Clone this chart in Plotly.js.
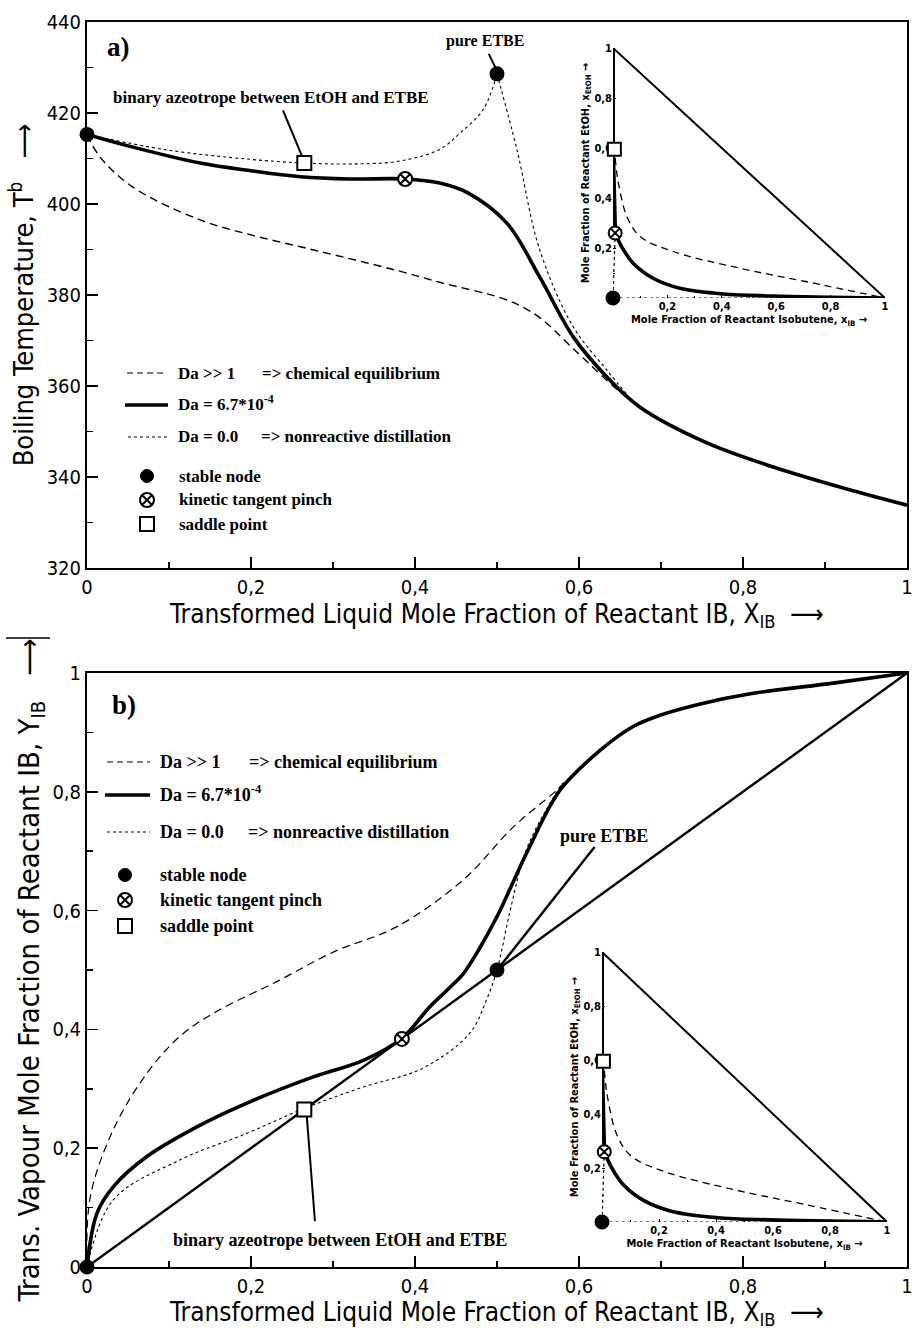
<!DOCTYPE html>
<html><head><meta charset="utf-8">
<script src="https://cdn.plot.ly/plotly-3.0.1.min.js"></script>
<style>html,body{margin:0;padding:0;background:#fff}</style>
</head><body><div id="chart" style="width:912px;height:1330px"></div>
<script>
// ---------------- tick labels ----------------
const ticksX = [0, 0.2, 0.4, 0.6, 0.8, 1];
const ticksXText = ['0', '0,2', '0,4', '0,6', '0,8', '1'];
const minorX = [0.1, 0.3, 0.5, 0.7, 0.9];
const ticksTA = [320, 340, 360, 380, 400, 420, 440];
const minorTA = [330, 350, 370, 390, 410, 430];
const ticksYB = [0, 0.2, 0.4, 0.6, 0.8, 1];
const ticksYBText = ['0', '0,2', '0,4', '0,6', '0,8', '1'];
const minorYB = [0.1, 0.3, 0.5, 0.7, 0.9];
const insetTicks = [0.2, 0.4, 0.6, 0.8, 1];
const insetTickText = ['0,2', '0,4', '0,6', '0,8', '1'];
const insetMinor = [0.1, 0.3, 0.5, 0.7, 0.9];

// ---------------- panel a: boiling temperature ----------------
const xEqA = [0, 0.016, 0.056, 0.138, 0.2, 0.26, 0.32, 0.38, 0.43, 0.512, 0.55, 0.593, 0.646, 0.674];
const tEqA = [415.3, 410.3, 403.7, 396.5, 393.2, 390.6, 388.0, 385.3, 382.8, 378.9, 375.3, 368.2, 359.3, 355.4];
const xKinA = [0, 0.056, 0.138, 0.2, 0.26, 0.32, 0.388, 0.43, 0.465, 0.512, 0.552, 0.593, 0.634, 0.674, 0.756, 0.837, 0.918, 1.0];
const tKinA = [415.3, 412.5, 409.0, 407.3, 406.0, 405.5, 405.5, 404.6, 402.4, 395.8, 384.0, 370.8, 362.0, 355.4, 347.5, 342.2, 337.8, 333.8];
const xNrLeftA = [0, 0.097, 0.2, 0.265, 0.32, 0.38, 0.43, 0.455, 0.483, 0.5];
const tNrLeftA = [415.3, 411.9, 409.8, 409.0, 408.8, 409.4, 412.0, 415.6, 420.7, 428.6];
const xNrRightA = [0.5, 0.524, 0.552, 0.593, 0.634, 0.66];
const tNrRightA = [428.6, 412.2, 390.0, 373.0, 363.5, 357.8];
// singular points panel a
const xNodeA = [0, 0.5];
const tNodeA = [415.3, 428.6];
const xPinchA = [0.388];
const tPinchA = [405.5];
const xSaddleA = [0.265];
const tSaddleA = [409.0];

// ---------------- panel b: vapour vs liquid ----------------
const xDiagB = [0, 1];
const yDiagB = [0, 1];
const xEqB = [0, 0.004, 0.032, 0.073, 0.113, 0.154, 0.235, 0.30, 0.378, 0.459, 0.520, 0.573, 0.585];
const yEqB = [0, 0.118, 0.231, 0.326, 0.388, 0.427, 0.483, 0.53, 0.573, 0.652, 0.741, 0.803, 0.82];
const xKinB = [0, 0.012, 0.032, 0.073, 0.134, 0.195, 0.276, 0.337, 0.384, 0.418, 0.439, 0.459, 0.479, 0.50, 0.520, 0.540, 0.577, 0.626, 0.666, 0.699, 0.748, 0.809, 0.910, 1.0];
const yKinB = [0, 0.09, 0.135, 0.186, 0.236, 0.276, 0.320, 0.348, 0.385, 0.438, 0.466, 0.494, 0.537, 0.590, 0.649, 0.708, 0.803, 0.870, 0.910, 0.929, 0.948, 0.965, 0.983, 1.0];
const xNrB = [0, 0.032, 0.113, 0.195, 0.265, 0.337, 0.41, 0.467, 0.487, 0.5, 0.516, 0.535, 0.56, 0.58];
const yNrB = [0, 0.113, 0.18, 0.225, 0.267, 0.303, 0.335, 0.394, 0.449, 0.5, 0.60, 0.70, 0.77, 0.815];
const xNodeB = [0, 0.5];
const yNodeB = [0, 0.5];
const xPinchB = [0.384];
const yPinchB = [0.384];
const xSaddleB = [0.265];
const ySaddleB = [0.265];

// ---------------- insets: composition triangle ----------------
const xInEdge = [0, 1];
const yInEdge = [1, 0];
const xInKin = [0, 0, 0.008, 0.032, 0.075, 0.149, 0.246, 0.405, 0.588, 1];
const yInKin = [1, 0.6, 0.26, 0.205, 0.138, 0.078, 0.039, 0.016, 0.008, 0];
const xInEq = [0.008, 0.014, 0.02, 0.051, 0.1, 0.221, 0.467, 0.712, 1];
const yInEq = [0.56, 0.5, 0.459, 0.326, 0.246, 0.186, 0.119, 0.065, 0];
const xInNr = [0.008, 0, 1];
const yInNr = [0.26, 0, 0];
const xInNode = [0];
const yInNode = [0];
const xInPinch = [0.008];
const yInPinch = [0.26];
const xInSaddle = [0.005];
const yInSaddle = [0.595];

// ---------------- geometry helpers ----------------
const W = 912, H = 1330, ML = 87, MR = 5, MT = 22, MB = 63;
const PW = W - ML - MR, PH = H - MT - MB;
const px = x => (x - ML) / PW;
const py = y => 1 - (y - MT) / PH;

const SANS = 'DejaVu Sans Condensed, Liberation Sans Narrow, DejaVu Sans, sans-serif';
const SERIF = 'Liberation Serif, DejaVu Serif, serif';
const BLACK = '#000';
const NB = '\u00A0';

function lineTrace(x, y, xa, ya, width, dash, shape) {
  return {
    type: 'scatter', mode: 'lines', x: x, y: y, xaxis: xa, yaxis: ya,
    line: {color: BLACK, width: width, dash: dash, shape: shape || 'spline', smoothing: 1},
    cliponaxis: false, hoverinfo: 'skip', showlegend: false
  };
}
function markTrace(x, y, xa, ya, symbol, size, fill) {
  return {
    type: 'scatter', mode: 'markers', x: x, y: y, xaxis: xa, yaxis: ya,
    marker: {symbol: symbol, size: size, color: fill, line: {color: BLACK, width: 2}},
    cliponaxis: false, hoverinfo: 'skip', showlegend: false
  };
}

const traces = [];
// panel a
traces.push(lineTrace(xEqA, tEqA, 'x', 'y', 1.4, '8px,5px'));
traces.push(lineTrace(xNrLeftA, tNrLeftA, 'x', 'y', 1.1, 'dot'));
traces.push(lineTrace(xNrRightA, tNrRightA, 'x', 'y', 1.1, 'dot'));
traces.push(lineTrace(xKinA, tKinA, 'x', 'y', 3.6, 'solid'));
traces.push(markTrace(xSaddleA, tSaddleA, 'x', 'y', 'square', 14, '#fff'));
traces.push(markTrace(xPinchA, tPinchA, 'x', 'y', 'circle-x', 14, '#fff'));
traces.push(markTrace(xNodeA, tNodeA, 'x', 'y', 'circle', 13, BLACK));
// panel b
traces.push(lineTrace(xDiagB, yDiagB, 'x2', 'y2', 2.4, 'solid', 'linear'));
traces.push(lineTrace(xEqB, yEqB, 'x2', 'y2', 1.2, '8px,5px'));
traces.push(lineTrace(xNrB, yNrB, 'x2', 'y2', 1.1, 'dot'));
traces.push(lineTrace(xKinB, yKinB, 'x2', 'y2', 3.6, 'solid'));
traces.push(markTrace(xSaddleB, ySaddleB, 'x2', 'y2', 'square', 14, '#fff'));
traces.push(markTrace(xPinchB, yPinchB, 'x2', 'y2', 'circle-x', 14, '#fff'));
traces.push(markTrace(xNodeB, yNodeB, 'x2', 'y2', 'circle', 13, BLACK));
// insets
[['x3', 'y3'], ['x4', 'y4']].forEach(([xa, ya]) => {
  traces.push(lineTrace(xInEdge, yInEdge, xa, ya, 2, 'solid', 'linear'));
  traces.push(lineTrace(xInNr, yInNr, xa, ya, 1.2, 'dot', 'linear'));
  traces.push(lineTrace(xInEq, yInEq, xa, ya, 1.3, '7px,5px'));
  traces.push(lineTrace(xInKin.slice(0, 3), yInKin.slice(0, 3), xa, ya, 4, 'solid', 'linear'));
  traces.push(lineTrace(xInKin.slice(2), yInKin.slice(2), xa, ya, 3.6, 'solid'));
  traces.push(markTrace(xInSaddle, yInSaddle, xa, ya, 'square', 13, '#fff'));
  traces.push(markTrace(xInPinch, yInPinch, xa, ya, 'circle-x', 13, '#fff'));
  traces.push(markTrace(xInNode, yInNode, xa, ya, 'circle', 13, BLACK));
});

// ---------------- axes ----------------
const tickFont = {family: SANS, size: 20, color: BLACK};
const xTitleFont = {family: SANS, size: 26, color: BLACK};
const insetFont = {family: SANS, size: 11, weight: 'bold', color: BLACK};
function mainAxis(o) {
  return Object.assign({
    showline: true, linewidth: 2, linecolor: BLACK, mirror: true,
    ticks: 'inside', ticklen: 11, tickwidth: 1.5, tickcolor: BLACK,
    tickfont: tickFont, showgrid: false, zeroline: false, layer: 'below traces',
    ticklabeloverflow: 'allow', fixedrange: true, automargin: false
  }, o);
}
function insetAxis(o) {
  return Object.assign({
    showline: false, showgrid: false, zeroline: false, range: [0, 1],
    ticks: 'inside', ticklen: 3, tickwidth: 1, tickcolor: BLACK,
    tickmode: 'array', tickvals: insetTicks, ticktext: insetTickText,
    minor: {tickvals: insetMinor, ticks: 'inside', ticklen: 2, tickwidth: 1, tickcolor: BLACK},
    tickfont: {family: SANS, size: 11, weight: 'bold', color: BLACK},
    ticklabeloverflow: 'allow',
    layer: 'below traces', fixedrange: true, automargin: false
  }, o);
}
const xTitle = 'Transformed Liquid Mole Fraction of Reactant IB, X<sub>IB</sub>  \u27F6';
const insetXTitle = 'Mole Fraction of Reactant Isobutene, x<sub>IB</sub> \u2192';
const insetYTitle = 'Mole Fraction of Reactant EtOH, x<sub>EtOH</sub> \u2192';

const layout = {
  width: W, height: H,
  margin: {l: ML, r: MR, t: MT, b: MB},
  paper_bgcolor: '#fff', plot_bgcolor: 'rgba(0,0,0,0)',
  showlegend: false,
  xaxis: mainAxis({domain: [0, 1], anchor: 'y', range: [0, 1],
    tickmode: 'array', tickvals: ticksX, ticktext: ticksXText,
    minor: {tickvals: minorX, ticks: 'inside', ticklen: 6, tickwidth: 1.5, tickcolor: BLACK},
    title: {text: xTitle, font: xTitleFont, standoff: 2}}),
  yaxis: mainAxis({domain: [py(568), 1], anchor: 'x', range: [320, 440],
    tickmode: 'array', tickvals: ticksTA, ticktext: ticksTA.map(String),
    minor: {tickvals: minorTA, ticks: 'inside', ticklen: 6, tickwidth: 1.5, tickcolor: BLACK},
    title: {text: 'Boiling Temperature, T<sup>b</sup>' + NB + NB + NB + '\u27F6' + NB + NB + NB,
      font: {family: SANS, size: 27, color: BLACK}, standoff: 5}}),
  xaxis2: mainAxis({domain: [0, 1], anchor: 'y2', range: [0, 1],
    tickmode: 'array', tickvals: ticksX, ticktext: ticksXText,
    minor: {tickvals: minorX, ticks: 'inside', ticklen: 6, tickwidth: 1.5, tickcolor: BLACK},
    title: {text: xTitle, font: xTitleFont, standoff: 1}}),
  yaxis2: mainAxis({domain: [0, py(673)], anchor: 'x2', range: [0, 1],
    tickmode: 'array', tickvals: ticksYB, ticktext: ticksYBText,
    minor: {tickvals: minorYB, ticks: 'inside', ticklen: 6, tickwidth: 1.5, tickcolor: BLACK},
    title: {text: 'Trans. Vapour Mole Fraction of Reactant IB, Y<sub>IB</sub>' + NB + NB + NB + '\u27F6' + NB + NB,
      font: {family: SANS, size: 29, color: BLACK}, standoff: 4}}),
  xaxis3: insetAxis({domain: [px(613), px(885)], anchor: 'y3',
    title: {text: insetXTitle, font: insetFont, standoff: 3}}),
  yaxis3: insetAxis({domain: [py(298), py(48)], anchor: 'x3',
    title: {text: insetYTitle, font: insetFont, standoff: 2}}),
  xaxis4: insetAxis({domain: [px(602), px(887)], anchor: 'y4',
    title: {text: insetXTitle, font: insetFont, standoff: 3}}),
  yaxis4: insetAxis({domain: [py(1222), py(952)], anchor: 'x4',
    title: {text: insetYTitle, font: insetFont, standoff: 2}}),
  shapes: [],
  annotations: []
};

const TXT = {family: SERIF, size: 17, color: BLACK, weight: 'bold'};
function note(text, xref, yref, x, y, size, anchor) {
  layout.annotations.push({text: text, xref: xref, yref: yref, x: x, y: y,
    xanchor: anchor || 'center', yanchor: 'middle', showarrow: false,
    font: Object.assign({}, TXT, {size: size || 17})});
}
function seg(xref, yref, x0, y0, x1, y1, w, dash) {
  layout.shapes.push({type: 'line', xref: xref, yref: yref, x0: x0, y0: y0, x1: x1, y1: y1,
    line: {color: BLACK, width: w, dash: dash || 'solid'}});
}
// glyphs for the hand-made key (pixel positions on the page)
function keyLine(x0, x1, y, w, dash) { seg('paper', 'paper', px(x0), py(y), px(x1), py(y), w, dash); }
function keyGlyph(kind, cx, cy) {
  const base = {xref: 'paper', yref: 'paper', xsizemode: 'pixel', ysizemode: 'pixel',
    xanchor: px(cx), yanchor: py(cy)};
  if (kind === 'node') {
    layout.shapes.push(Object.assign({type: 'circle', x0: -6.5, x1: 6.5, y0: -6.5, y1: 6.5,
      fillcolor: BLACK, line: {color: BLACK, width: 1}}, base));
  } else if (kind === 'pinch') {
    layout.shapes.push(Object.assign({type: 'circle', x0: -7, x1: 7, y0: -7, y1: 7,
      fillcolor: '#fff', line: {color: BLACK, width: 2}}, base));
    layout.shapes.push(Object.assign({type: 'line', x0: -4.8, x1: 4.8, y0: -4.8, y1: 4.8, line: {color: BLACK, width: 2}}, base));
    layout.shapes.push(Object.assign({type: 'line', x0: -4.8, x1: 4.8, y0: 4.8, y1: -4.8, line: {color: BLACK, width: 2}}, base));
  } else {
    layout.shapes.push(Object.assign({type: 'rect', x0: -7, x1: 7, y0: -7, y1: 7,
      fillcolor: '#fff', line: {color: BLACK, width: 2}}, base));
  }
}
function keyText(text, x, y, size) {
  note(text, 'paper', 'paper', px(x), py(y), size, 'left');
}

// ----- panel a texts -----
note('a)', 'x', 'y', 0.038, 434.5, 27);
note('binary azeotrope between EtOH and ETBE', 'x', 'y', 0.224, 423.3, 17);
seg('x', 'y', 0.239, 420.6, 0.262, 410.6, 2);
note('pure ETBE', 'x', 'y', 0.485, 435.8, 16);
seg('x', 'y', 0.490, 433.0, 0.498, 430.0, 2);
keyLine(127, 167, 373, 1.2, '6px,4px');
keyText('Da >> 1', 176, 373);
keyText('=> chemical equilibrium', 260, 373);
keyLine(125, 168, 405, 3.4);
keyText('Da = 6.7*10<sup>-4</sup>', 176, 403);
keyLine(128, 168, 437, 1.1, 'dot');
keyText('Da = 0.0', 176, 437);
keyText('=> nonreactive distillation', 259, 437);
keyGlyph('node', 147, 476); keyText('stable node', 177, 476);
keyGlyph('pinch', 147, 500); keyText('kinetic tangent pinch', 177, 500);
keyGlyph('saddle', 147, 524); keyText('saddle point', 177, 524);

// ----- panel b texts -----
note('b)', 'x2', 'y2', 0.045, 0.946, 27);
note('pure ETBE', 'x2', 'y2', 0.630, 0.726, 18);
seg('x2', 'y2', 0.619, 0.707, 0.503, 0.505, 2.4);
note('binary azeotrope between EtOH and ETBE', 'x2', 'y2', 0.309, 0.045, 18);
seg('x2', 'y2', 0.268, 0.254, 0.278, 0.077, 2);
keyLine(107, 150, 762, 1.2, '6px,4px');
keyText('Da >> 1', 158, 762, 18);
keyText('=> chemical equilibrium', 247, 762, 18);
keyLine(105, 150, 795, 3.4);
keyText('Da = 6.7*10<sup>-4</sup>', 158, 793, 18);
keyLine(107, 150, 832, 1.1, 'dot');
keyText('Da = 0.0', 158, 832, 18);
keyText('=> nonreactive distillation', 246, 832, 18);
keyGlyph('node', 125, 875); keyText('stable node', 158, 875, 18);
keyGlyph('pinch', 125, 900); keyText('kinetic tangent pinch', 158, 900, 18);
keyGlyph('saddle', 125, 926); keyText('saddle point', 158, 926, 18);

// short rule above the vapour-axis arrow
keyLine(6, 50, 638, 1.5);

Plotly.newPlot('chart', traces, layout, {staticPlot: true, displayModeBar: false});
</script></body></html>
